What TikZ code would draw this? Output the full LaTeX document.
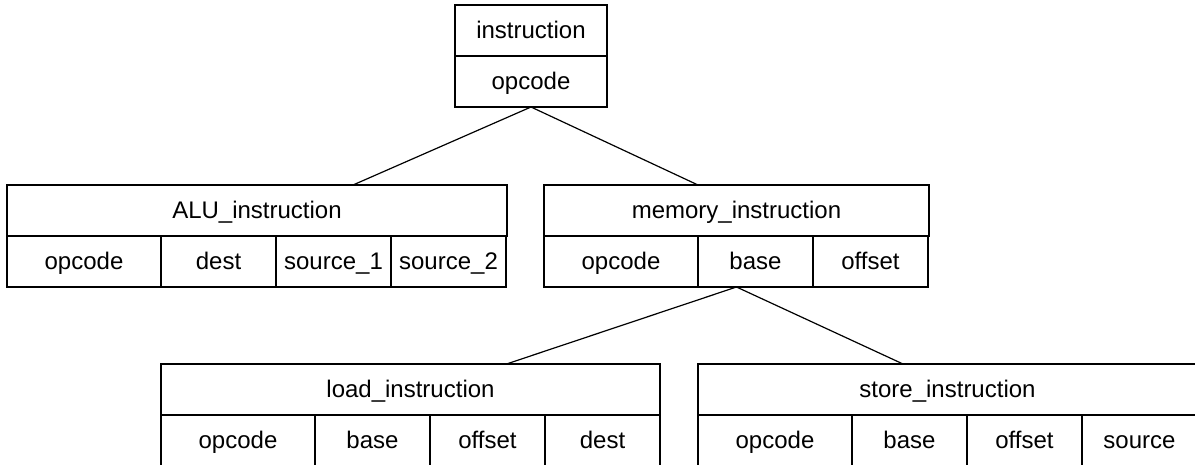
\documentclass[tikz,border=0pt]{standalone}
\usepackage{fontspec}
\setmainfont{Liberation Sans}
\usetikzlibrary{positioning}
\tikzset{
  cell/.style={draw, line width=0.6pt, outer sep=0pt, inner sep=0pt, minimum height=25.5pt, text height=9.8pt, text depth=2.2pt, font=\fontsize{12}{14}\selectfont},
  wide/.style={cell, minimum width=77pt},
  narrow/.style={cell, minimum width=57.5pt},
  link/.style={line width=0.6pt}
}

\begin{document}
\begin{tikzpicture}[x=0.5pt,y=-0.5pt]
        \useasboundingbox (0,0) rectangle (1195,465);                                  % Rahmen
        \clip (0,0) rectangle (1195,464);                                              % Abschnitt
        % instruction
        \node[cell, minimum width=76pt, anchor=north west] (instr) at (455,5) {instruction};
        \node[cell, minimum width=76pt, below=0pt of instr] (instrop) {opcode};
        % ALU_instruction
        \node[cell, minimum width=250pt, anchor=north west] (alu) at (7,185) {ALU\_instruction};
        \node[wide, below right=0pt of alu.south west] (alu1) {opcode};
        \node[narrow, right=0pt of alu1] (alu2) {dest};
        \node[narrow, right=0pt of alu2] (alu3) {source\_1};
        \node[narrow, right=0pt of alu3] (alu4) {source\_2};
        % memory_instruction
        \node[cell, minimum width=192.5pt, anchor=north west] (mem) at (544,185) {memory\_instruction};
        \node[wide, below right=0pt of mem.south west] (mem1) {opcode};
        \node[narrow, right=0pt of mem1] (mem2) {base};
        \node[narrow, right=0pt of mem2] (mem3) {offset};
        % load_instruction
        \node[cell, minimum width=249.5pt, anchor=north west] (load) at (161,364) {load\_instruction};
        \node[wide, below right=0pt of load.south west] (load1) {opcode};
        \node[narrow, right=0pt of load1] (load2) {base};
        \node[narrow, right=0pt of load2] (load3) {offset};
        \node[narrow, right=0pt of load3] (load4) {dest};
        % store_instruction
        \node[cell, minimum width=249.5pt, anchor=north west] (store) at (698,364) {store\_instruction};
        \node[wide, below right=0pt of store.south west] (store1) {opcode};
        \node[narrow, right=0pt of store1] (store2) {base};
        \node[narrow, right=0pt of store2] (store3) {offset};
        \node[narrow, right=0pt of store3] (store4) {source};
        % Verbindungen
        \draw[link] (instrop.south) -- ([xshift=48pt]alu.north);                      % zu ALU
        \draw[link] (instrop.south) -- (mem2.west |- mem.north);                       % zu memory
        \draw[link] (mem.south |- mem2.south) -- ([xshift=48pt]load.north);            % zu load
        \draw[link] (mem.south |- mem2.south) -- ([xshift=-22.25pt]store.north);       % zu store
\end{tikzpicture}
\end{document}
